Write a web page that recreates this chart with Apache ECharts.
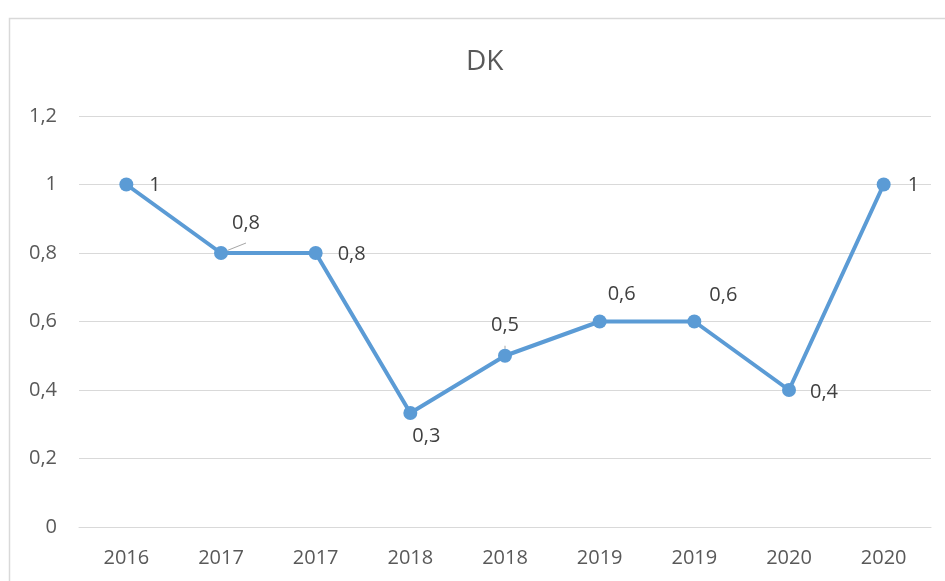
<!DOCTYPE html>
<html><head><meta charset="utf-8">
<script src="https://cdn.jsdelivr.net/npm/echarts@6/dist/echarts.min.js"></script>
<style>html,body{margin:0;padding:0;background:#fff}#c{width:945px;height:581px}</style>
</head><body><div id="c"></div>
<script>
const categories = ['2016','2017','2017','2018','2018','2019','2019','2020','2020'];
const values = [1, 0.8, 0.8, 0.333, 0.5, 0.6, 0.6, 0.4, 1];
const dataLabels = ['1','0,8','0,8','0,3','0,5','0,6','0,6','0,4','1'];
const labelPlacement = [
  {position:'right', offset:[11,1]},
  {position:'top', offset:[25,-8], guide:true},
  {position:'right', offset:[10,1]},
  {position:'bottom', offset:[16,1]},
  {position:'top', offset:[0,-8], guide:true},
  {position:'top', offset:[22,-5]},
  {position:'top', offset:[29,-4]},
  {position:'right', offset:[9,2]},
  {position:'right', offset:[12,1]}
];
const font = 'Open Sans, Liberation Sans, sans-serif';
const chart = echarts.init(document.getElementById('c'));
chart.setOption({
  animation:false,
  backgroundColor:'#fff',
  graphic:[{type:'rect',shape:{x:9.5,y:18.5,width:1000,height:1000},style:{fill:'none',stroke:'#d9d9d9',lineWidth:1.5},silent:true}],
  title:{text:'DK',left:461,top:43,textStyle:{fontFamily:font,fontSize:28,fontWeight:'normal',color:'#595959'}},
  grid:{left:79,right:14,top:116,bottom:54,containLabel:false},
  xAxis:{type:'category',data:categories,boundaryGap:true,
    axisLine:{show:true,lineStyle:{color:'#d9d9d9',width:1}},axisTick:{show:false},
    axisLabel:{fontFamily:font,fontSize:20,color:'#595959',margin:21}},
  yAxis:{type:'value',min:0,max:1.2,interval:0.2,
    axisLine:{show:false},axisTick:{show:false},
    splitLine:{lineStyle:{color:'#d9d9d9',width:1}},
    axisLabel:{fontFamily:font,fontSize:20,color:'#595959',margin:22,
      formatter:v=>String(Math.round(v*10)/10).replace('.',',')}},
  series:[{type:'line',
    data:values.map((v,i)=>({value:v,
      label:{show:true,formatter:dataLabels[i],position:labelPlacement[i].position,offset:labelPlacement[i].offset},
      labelLine:{show:!!labelPlacement[i].guide,lineStyle:{color:'#a6a6a6',width:1}}})),
    symbol:'circle',symbolSize:14,
    lineStyle:{color:'#5b9bd5',width:4},
    itemStyle:{color:'#5b9bd5'},
    label:{fontFamily:font,fontSize:20,color:'#404040'}
  }]
});
</script></body></html>
